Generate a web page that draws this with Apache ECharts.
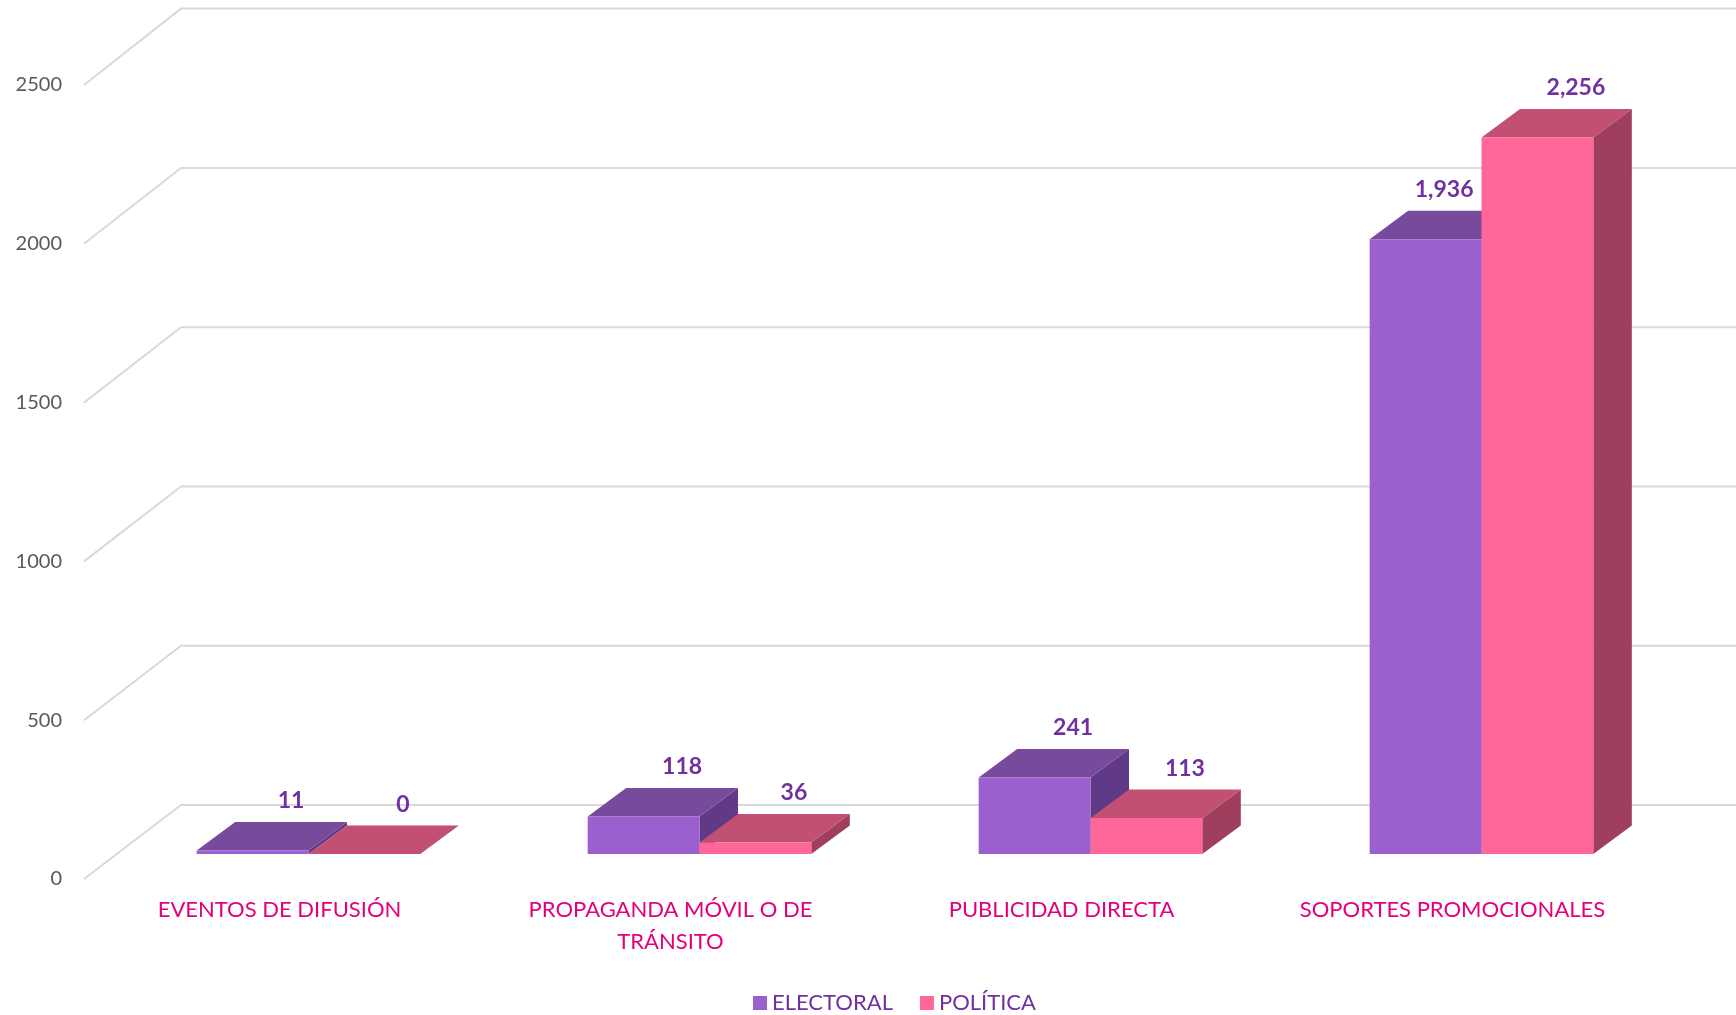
<!DOCTYPE html>
<html>
<head>
<meta charset="utf-8">
<script src="https://cdn.jsdelivr.net/npm/echarts@6/dist/echarts.min.js"></script>
<style>
  html, body { margin: 0; padding: 0; background: #fff; }
  #chart { width: 1736px; height: 1015px; }
</style>
</head>
<body>
<div id="chart"></div>
<script>
var categories = ['EVENTOS DE DIFUSIÓN', 'PROPAGANDA MÓVIL O DE TRÁNSITO', 'PUBLICIDAD DIRECTA', 'SOPORTES PROMOCIONALES'];
var tickLabels = ['EVENTOS DE DIFUSIÓN', 'PROPAGANDA MÓVIL O DE\nTRÁNSITO', 'PUBLICIDAD DIRECTA', 'SOPORTES PROMOCIONALES'];
var electoral = [11, 118, 241, 1936];
var politica = [0, 36, 113, 2256];
var yTicks = [0, 500, 1000, 1500, 2000, 2500];

// projection of the depth axis (pixels)
var WALL_DX = 97, WALL_DY = -74;   // floor front edge -> back wall
var WALL_SCALE = 1.003;            // back wall is drawn a touch taller
var BAR_DX = 38.5, BAR_DY = -28.5; // bar depth

var FONT = 'Lato, "Open Sans", sans-serif';
var LABEL_FONT = 'bold 23px Lato';

var measureCtx = document.createElement('canvas').getContext('2d');
function textWidth(s) {
  measureCtx.font = LABEL_FONT;
  return measureCtx.measureText(s).width;
}

var chart = echarts.init(document.getElementById('chart'));

function barSeries(name, values, other, idx, c) {
  return {
    type: 'custom',
    name: name,
    xAxisIndex: 1,
    yAxisIndex: 1,
    itemStyle: { color: c.front },
    data: values.map(function (v, i) { return [i, v]; }),
    renderItem: function (params, api) {
      var i = api.value(0), v = api.value(1);
      var top = api.coord([i, v]);
      var base = api.coord([i, 0]);
      var w = api.size([1, 0])[0] * 0.286;
      var x0 = top[0] + (idx === 0 ? -w : 0);
      var yt = top[1], yb = base[1];
      var txt = v.toLocaleString('en-US');
      var tx = x0 + w / 2 + BAR_DX;
      var ty = yt + BAR_DY - 21;
      // keep the label clear of a taller neighbouring bar
      if (idx === 0 && other[i] > v) {
        var half = textWidth(txt) / 2;
        var otherTop = api.coord([i, other[i]])[1];
        if (otherTop < ty + 12 && tx + half > x0 + w - 8) tx = x0 + w - 8 - half;
      }
      return {
        type: 'group',
        children: [
          { type: 'polygon', shape: { points: [[x0 + w, yt], [x0 + w + BAR_DX, yt + BAR_DY], [x0 + w + BAR_DX, yb + BAR_DY], [x0 + w, yb]] },
            style: { fill: c.side } },
          { type: 'polygon', shape: { points: [[x0, yt], [x0 + BAR_DX, yt + BAR_DY], [x0 + w + BAR_DX, yt + BAR_DY], [x0 + w, yt]] },
            style: { fill: c.top } },
          { type: 'rect', shape: { x: x0, y: yt, width: w, height: yb - yt },
            style: { fill: c.front } },
          { type: 'text', style: {
              text: txt, x: tx, y: ty,
              align: 'center', verticalAlign: 'middle',
              fontSize: 23, fontWeight: 'bold', fontFamily: 'Lato', fill: '#7030A0' } }
        ]
      };
    }
  };
}

var option = {
  animation: false,
  backgroundColor: '#fff',
  grid: [
    // front plane (axis labels)
    { left: 84, right: 88, top: 85, bottom: 136 },
    // bar plane
    { left: 113, right: 59, top: 60, bottom: 161 }
  ],
  xAxis: [
    { gridIndex: 0, type: 'category', data: categories,
      axisLine: { show: false }, axisTick: { show: false },
      axisLabel: { interval: 0, margin: 15, color: '#E4007C', fontSize: 22, lineHeight: 32, fontFamily: FONT,
        formatter: function (v, i) { return tickLabels[i]; } } },
    { gridIndex: 1, type: 'category', data: categories, show: false }
  ],
  yAxis: [
    { gridIndex: 0, type: 'value', min: 0, max: 2500, interval: 500,
      axisLine: { show: false }, axisTick: { show: false }, splitLine: { show: false },
      axisLabel: { margin: 22, color: '#595959', fontSize: 20, fontFamily: FONT,
        formatter: function (v) { return String(v); } } },
    { gridIndex: 1, type: 'value', min: 0, max: 2500, interval: 500, show: false }
  ],
  legend: {
    data: ['ELECTORAL', 'POLÍTICA'],
    top: 987, left: 748,
    icon: 'rect', itemWidth: 14, itemHeight: 14, itemGap: 27,
    textStyle: { color: '#7030A0', fontSize: 22, fontFamily: FONT }
  },
  series: [
    {
      type: 'custom',
      name: 'grid',
      xAxisIndex: 0,
      yAxisIndex: 0,
      silent: true,
      data: yTicks.map(function (v) { return [0, v]; }),
      renderItem: function (params, api) {
        var p = api.coord([0, api.value(1)]);
        var zero = api.coord([0, 0])[1];
        var cs = params.coordSys;
        var x0 = cs.x, y = p[1];
        var yb = zero + WALL_DY - (zero - y) * WALL_SCALE;
        return {
          type: 'polyline',
          shape: { points: [[x0, y], [x0 + WALL_DX, yb], [x0 + cs.width + WALL_DX + 20, yb]] },
          style: { stroke: '#d9d9d9', lineWidth: 2, fill: null }
        };
      }
    },
    barSeries('ELECTORAL', electoral, politica, 0, { front: '#9C5FD0', top: '#784A9C', side: '#613A87' }),
    barSeries('POLÍTICA', politica, electoral, 1, { front: '#FF6699', top: '#C15072', side: '#A03E5E' })
  ]
};

chart.setOption(option);
</script>
</body>
</html>
